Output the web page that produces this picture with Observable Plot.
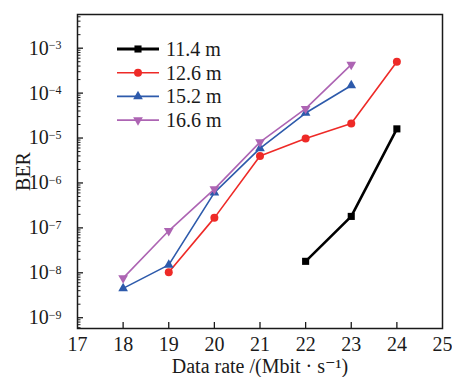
<!DOCTYPE html>
<html>
<head>
<meta charset="utf-8">
<script src="https://cdn.jsdelivr.net/npm/d3@7"></script>
<script src="https://cdn.jsdelivr.net/npm/@observablehq/plot@0.6"></script>
<style>
  html, body { margin: 0; padding: 0; background: #fff; }
  #wrap { position: relative; width: 452px; height: 377px; }
  #legend { position: absolute; left: 0; top: 0; }
</style>
</head>
<body>
<div id="wrap"><div id="chart"></div><svg id="legend" width="452" height="377"></svg></div>
<script>
// ---- Data ----
const seriesNames = ["11.4 m", "12.6 m", "15.2 m", "16.6 m"];
const rates114 = [22, 23, 24];
const ber114 = [1.8e-8, 1.8e-7, 1.6e-5];
const rates126 = [19, 20, 21, 22, 23, 24];
const ber126 = [1.03e-8, 1.67e-7, 4.0e-6, 9.8e-6, 2.1e-5, 5.0e-4];
const rates152 = [18, 19, 20, 21, 22, 23];
const ber152 = [4.5e-9, 1.5e-8, 6.1e-7, 5.9e-6, 3.6e-5, 1.48e-4];
const rates166 = [18, 19, 20, 21, 22, 23];
const ber166 = [7.6e-9, 8.6e-8, 7.3e-7, 8.1e-6, 4.5e-5, 4.3e-4];
const xTickLabels = [17, 18, 19, 20, 21, 22, 23, 24, 25];
const yTickExponents = [-9, -8, -7, -6, -5, -4, -3];

// ---- Styling ----
const colors = ["#000000", "#ee2a27", "#2d5aab", "#ad64b3"];
const widths = [2.6, 1.6, 1.6, 1.6];
const downTriangle = {
  draw(context, size) {
    const y = -Math.sqrt(size / (Math.sqrt(3) * 3));
    context.moveTo(0, -y * 2);
    context.lineTo(-Math.sqrt(3) * y, y);
    context.lineTo(Math.sqrt(3) * y, y);
    context.closePath();
  }
};
const symbols = ["square", "circle", "triangle", downTriangle];
const radii = [4, 4, 3.6, 3.6];

const series = [
  [rates114, ber114], [rates126, ber126], [rates152, ber152], [rates166, ber166]
].map(([xs, ys], i) => xs.map((x, j) => ({x, y: ys[j], s: seriesNames[i]})));

const W = 452, H = 377, mL = 77, mR = 10, mT = 14, mB = 49;
const plotW = W - mL - mR, plotH = H - mT - mB;
const yMajor = yTickExponents.map(e => Math.pow(10, e));
const yMinor = [];
for (let e = -10; e <= -3; e++) for (let k = 2; k <= 9; k++) {
  const v = k * Math.pow(10, e);
  if (v > Math.pow(10, -9.24) && v < Math.pow(10, -2.25)) yMinor.push(v);
}
const supMap = {"-": "\u207B", "0": "\u2070", "1": "\u00B9", "2": "\u00B2", "3": "\u00B3", "4": "\u2074", "5": "\u2075", "6": "\u2076", "7": "\u2077", "8": "\u2078", "9": "\u2079"};
const sup = n => String(n).split("").map(c => supMap[c]).join("");

const marks = [
  Plot.frame({stroke: "#1a1a1a", strokeWidth: 1.5}),
  Plot.tickX(xTickLabels.slice(1, -1), {x: d => d, stroke: "#1a1a1a", strokeWidth: 1.3, insetTop: plotH - 6}),
  Plot.tickY(yMajor, {y: d => d, stroke: "#1a1a1a", strokeWidth: 1.3, insetRight: plotW - 6}),
  Plot.tickY(yMinor, {y: d => d, stroke: "#1a1a1a", strokeWidth: 1, insetRight: plotW - 3.5}),
  Plot.axisX({ticks: xTickLabels, tickSize: 0, tickPadding: 8, tickFormat: d => String(d),
    label: "Data rate /(Mbit \u00B7 s\u207B\u00B9)", labelAnchor: "center", labelOffset: 44, labelArrow: "none"}),
  Plot.axisY({ticks: yMajor, tickSize: 0, tickPadding: 16, tickFormat: d => "10" + sup(Math.round(Math.log10(d))),
    label: "BER", labelAnchor: "center", labelOffset: 62, labelArrow: "none"})
];
series.forEach((d, i) => {
  marks.push(Plot.line(d, {x: "x", y: "y", stroke: colors[i], strokeWidth: widths[i]}));
  marks.push(Plot.dot(d, {x: "x", y: "y", symbol: () => symbols[i], fill: colors[i], stroke: "none", r: radii[i]}));
});

const chart = Plot.plot({
  width: W, height: H,
  marginLeft: mL, marginRight: mR, marginTop: mT, marginBottom: mB,
  style: {fontFamily: "'Liberation Serif', 'DejaVu Serif', serif", fontSize: "20px", color: "#1a1a1a", background: "#fff"},
  x: {domain: [17, 25]},
  y: {type: "log", domain: [Math.pow(10, -9.24), Math.pow(10, -2.25)]},
  symbol: {type: "identity"},
  marks
});
document.getElementById("chart").appendChild(chart);

// Render the y tick exponents as smaller raised text (still real text)
d3.select(chart).selectAll('g[aria-label="y-axis tick label"] text').each(function () {
  const t = this.textContent;
  const inv = Object.fromEntries(Object.entries(supMap).map(([k, v]) => [v, k]));
  const expo = t.slice(2).split("").map(c => inv[c] || c).join("").replace("-", "\u2212");
  const el = d3.select(this);
  el.text("10");
  el.append("tspan").attr("dy", "-0.45em").attr("font-size", 12).text(expo);
});

// ---- Legend (overlay) ----
const leg = d3.select("#legend");
const rowY0 = 49, rowStep = 23.7, lx1 = 117, lx2 = 159, tx = 166;
seriesNames.forEach((name, i) => {
  const y = rowY0 + i * rowStep;
  leg.append("line").attr("x1", lx1).attr("x2", lx2).attr("y1", y).attr("y2", y)
    .attr("stroke", colors[i]).attr("stroke-width", i === 0 ? 3 : 1.6);
  const sym = typeof symbols[i] === "string"
    ? {square: d3.symbolSquare, circle: d3.symbolCircle, triangle: d3.symbolTriangle}[symbols[i]]
    : symbols[i];
  leg.append("path").attr("d", d3.symbol(sym, Math.PI * radii[i] * radii[i])())
    .attr("transform", `translate(${(lx1 + lx2) / 2},${y})`).attr("fill", colors[i]);
  leg.append("text").attr("x", tx).attr("y", y).attr("dy", "0.35em")
    .attr("font-family", "'Liberation Serif', 'DejaVu Serif', serif").attr("font-size", 20)
    .attr("fill", "#1a1a1a").text(name);
});
</script>
</body>
</html>
